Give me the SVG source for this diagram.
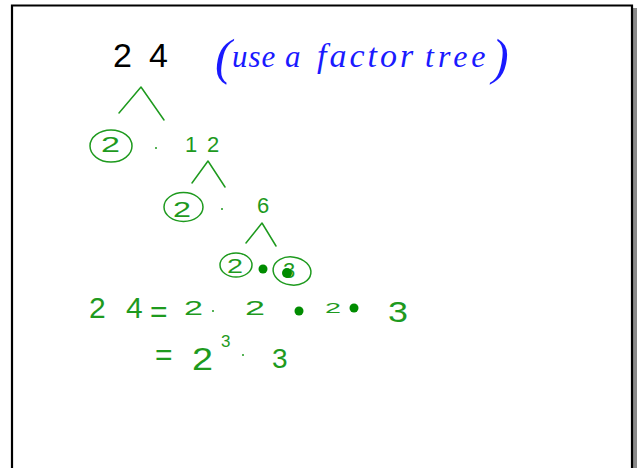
<svg xmlns="http://www.w3.org/2000/svg" width="639" height="468" viewBox="0 0 639 468">
<style>
.g{fill:#1e9a1e;font-family:"Liberation Sans",Arial,sans-serif}
.ln{fill:none;stroke:#1e9a1e;stroke-width:1.5;stroke-linecap:round;stroke-linejoin:round}
.dot{fill:#008c00}
.sd{fill:#1e9a1e}
.blk{fill:#000;font-family:"Liberation Sans",Arial,sans-serif}
.blue{fill:#1a1aff;font-family:"Liberation Serif","Times New Roman",serif;font-style:italic}
</style>
<rect width="639" height="468" fill="#fff"/>
<rect x="633" y="8" width="4" height="460" fill="#8a8a8a"/>
<path d="M12,469 V5.5 H632 V469" fill="none" stroke="#000" stroke-width="2.2"/>

<g id="title">
<text class="blk" font-size="34" x="113 149" y="67">24</text>
<text class="blue" y="67"><tspan x="215" font-size="50" y="74">(</tspan><tspan x="232" font-size="31" y="67" letter-spacing="1">use </tspan><tspan x="285" font-size="31">a </tspan><tspan x="317" font-size="34" letter-spacing="3">factor </tspan><tspan x="425" font-size="32" letter-spacing="4">tree</tspan><tspan x="492" font-size="50" y="74">)</tspan></text>
</g>

<g id="connectors">
<polyline class="ln" points="119,113 141,87 164,120"/>
<polyline class="ln" points="192,183 208,161 225,187"/>
<polyline class="ln" points="246,243 262,223 276,246"/>
</g>

<g id="node-2a">
<ellipse class="ln" cx="111" cy="146" rx="21" ry="16"/>
<text class="g" font-size="22" x="101" y="152" textLength="19" lengthAdjust="spacingAndGlyphs">2</text>
</g>
<circle class="sd" cx="156" cy="148" r="1"/>
<g id="node-12">
<text class="g" font-size="22" x="185 207" y="152">12</text>
</g>

<g id="node-2b">
<ellipse class="ln" cx="183.5" cy="207" rx="19.5" ry="14.5"/>
<text class="g" font-size="22" x="173" y="217" textLength="18" lengthAdjust="spacingAndGlyphs">2</text>
</g>
<circle class="sd" cx="222" cy="209" r="1"/>
<g id="node-6">
<text class="g" font-size="22" x="257" y="213">6</text>
</g>

<g id="node-2c">
<ellipse class="ln" cx="236" cy="265" rx="16" ry="12"/>
<text class="g" font-size="21" x="227" y="273" textLength="16" lengthAdjust="spacingAndGlyphs">2</text>
</g>
<circle class="dot" cx="263" cy="269" r="4.5"/>
<g id="node-3">
<ellipse class="ln" cx="292" cy="271" rx="19" ry="14" transform="rotate(8 292 271)"/>
<text class="g" font-size="22" x="283" y="278">3</text>
<circle class="dot" cx="287" cy="273" r="5"/>
</g>

<g id="result">
<text class="g" font-size="30" x="89 126" y="318">24</text>
<text class="g" font-size="30" x="150" y="322">=</text>
<text class="g" font-size="21" x="184" y="315" textLength="19" lengthAdjust="spacingAndGlyphs">2</text>
<circle class="sd" cx="213" cy="311" r="1"/>
<text class="g" font-size="21" x="245" y="315" textLength="20" lengthAdjust="spacingAndGlyphs">2</text>
<circle class="dot" cx="299" cy="311" r="4.5"/>
<text class="g" font-size="15" x="325" y="313" textLength="16" lengthAdjust="spacingAndGlyphs">2</text>
<circle class="dot" cx="354" cy="308" r="4.5"/>
<text class="g" font-size="30" x="388" y="322" textLength="20" lengthAdjust="spacingAndGlyphs">3</text>

<text class="g" font-size="30" x="155" y="365">=</text>
<text class="g" font-size="32" x="192" y="370" textLength="21" lengthAdjust="spacingAndGlyphs">2</text>
<text class="g" font-size="17" x="221" y="347">3</text>
<circle class="sd" cx="243" cy="355" r="1"/>
<text class="g" font-size="28" x="272" y="368">3</text>
</g>
</svg>
